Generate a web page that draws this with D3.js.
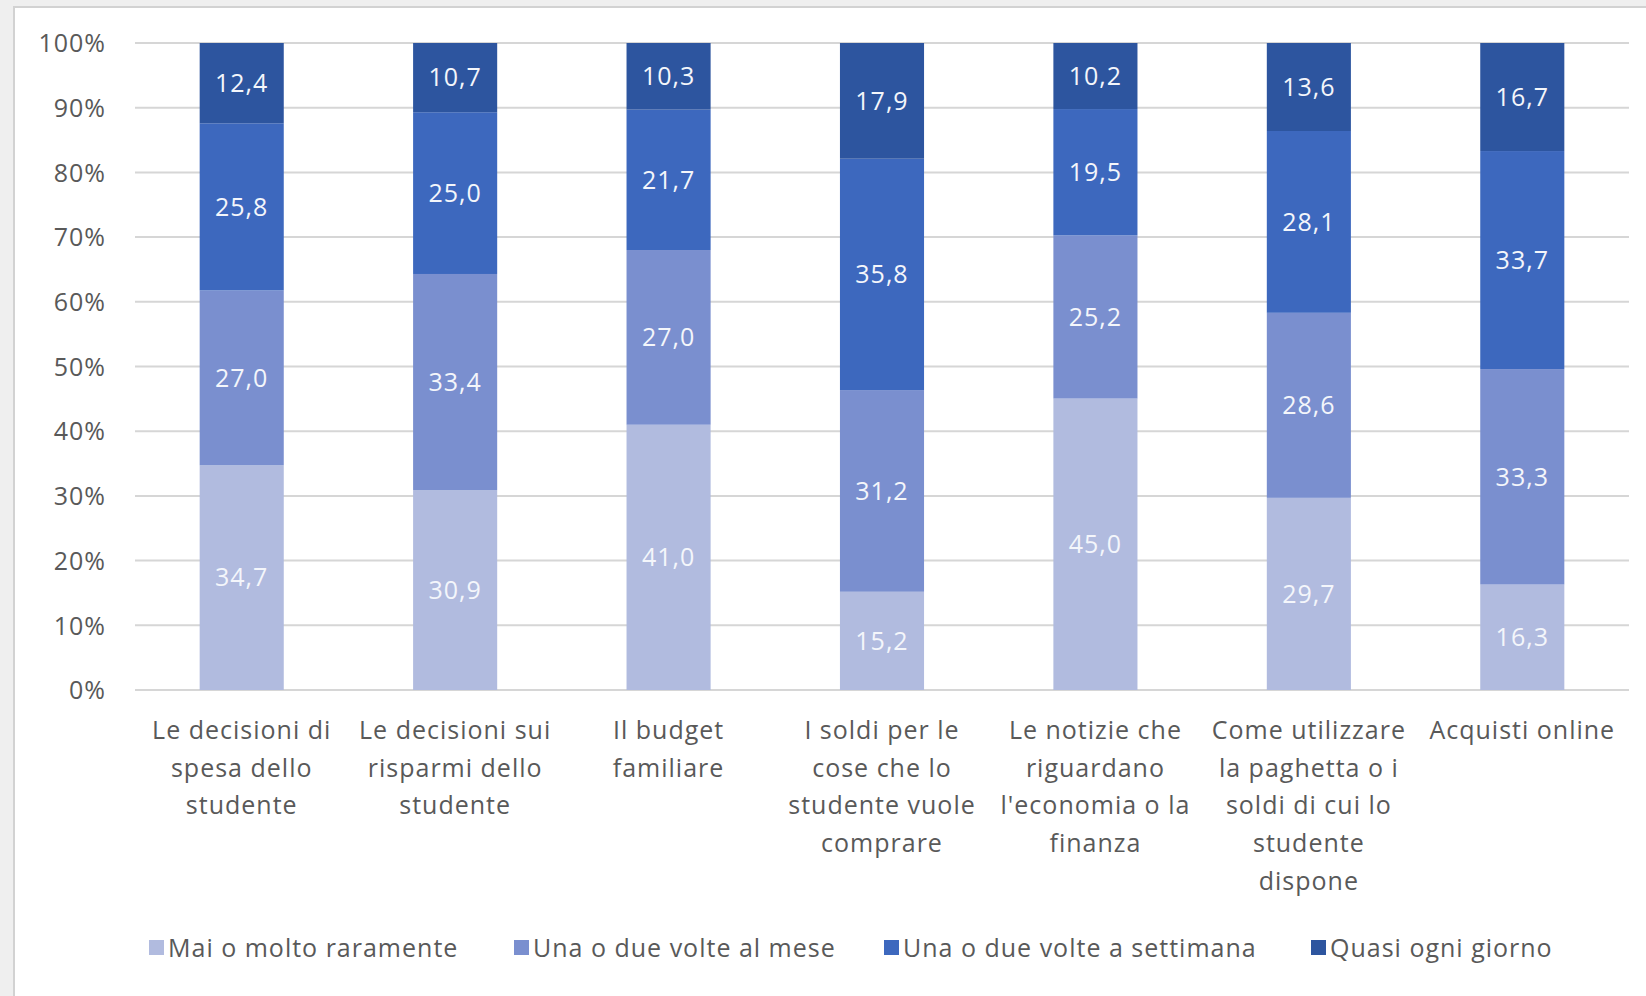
<!DOCTYPE html>
<html>
<head>
<meta charset="utf-8">
<script src="https://cdn.jsdelivr.net/npm/d3@7"></script>
<style>
  html, body { margin: 0; padding: 0; background: #efefef; }
  svg { display: block; }
  text { font-family: "Open Sans", "Noto Sans", sans-serif; letter-spacing: 1px; }
</style>
</head>
<body>
<svg id="chart" width="1646" height="996"></svg>
<script>
// Categories (each line of a wrapped label is a separate entry)
const categories = [
  ["Le decisioni di", "spesa dello", "studente"],
  ["Le decisioni sui", "risparmi dello", "studente"],
  ["Il budget", "familiare"],
  ["I soldi per le", "cose che lo", "studente vuole", "comprare"],
  ["Le notizie che", "riguardano", "l'economia o la", "finanza"],
  ["Come utilizzare", "la paghetta o i", "soldi di cui lo", "studente", "dispone"],
  ["Acquisti online"]
];

const seriesNames = [
  "Mai o molto raramente",
  "Una o due volte al mese",
  "Una o due volte a settimana",
  "Quasi ogni giorno"
];

// Percentages per series, one value per category
const maiRaramente    = [34.7, 30.9, 41.0, 15.2, 45.0, 29.7, 16.3];
const unoDueMese      = [27.0, 33.4, 27.0, 31.2, 25.2, 28.6, 33.3];
const unoDueSettim    = [25.8, 25.0, 21.7, 35.8, 19.5, 28.1, 33.7];
const quasiOgniGiorno = [12.4, 10.7, 10.3, 17.9, 10.2, 13.6, 16.7];

const yTicks = [0, 0.1, 0.2, 0.3, 0.4, 0.5, 0.6, 0.7, 0.8, 0.9, 1.0];

const colors = ["#b1bbdf", "#7a8fcf", "#3d68be", "#2d559f"];

const seriesValues = [maiRaramente, unoDueMese, unoDueSettim, quasiOgniGiorno];
const rows = categories.map((c, i) => {
  const r = { key: i };
  seriesNames.forEach((s, j) => { r[s] = seriesValues[j][i]; });
  return r;
});

const FONT = 25;
const svg = d3.select("#chart");

// chart frame
svg.append("rect")
  .attr("x", 14).attr("y", 7)
  .attr("width", 1646).attr("height", 1000)
  .attr("fill", "#ffffff")
  .attr("stroke", "#d2d2d2").attr("stroke-width", 2);

const plot = { left: 135, right: 1629, top: 43, bottom: 690 };

const x = d3.scaleBand()
  .domain(d3.range(categories.length))
  .range([plot.left, plot.right])
  .paddingInner(0.606)
  .paddingOuter(0.303);

const y = d3.scaleLinear()
  .domain([0, 1])
  .range([plot.bottom, plot.top]);

const stacked = d3.stack()
  .keys(seriesNames)
  .offset(d3.stackOffsetExpand)(rows);

// gridlines
svg.append("g")
  .selectAll("line")
  .data(yTicks)
  .join("line")
  .attr("x1", plot.left).attr("x2", plot.right)
  .attr("y1", d => y(d)).attr("y2", d => y(d))
  .attr("stroke", "#d6d6d6").attr("stroke-width", 2);

// y axis labels
const yAxis = d3.axisLeft(y)
  .tickValues(yTicks)
  .tickFormat(d3.format(".0%"))
  .tickSize(0)
  .tickPadding(0);
const gy = svg.append("g")
  .attr("transform", `translate(106,0)`)
  .call(yAxis);
gy.select(".domain").remove();
gy.selectAll("text")
  .attr("fill", "#595959")
  .attr("font-size", FONT)
  .attr("font-family", "Open Sans, sans-serif")
  .attr("dy", "0.35em");

// bars
const layers = svg.append("g")
  .selectAll("g")
  .data(stacked)
  .join("g")
  .attr("fill", (d, i) => colors[i]);

layers.selectAll("rect")
  .data(d => d)
  .join("rect")
  .attr("x", (d, i) => x(i))
  .attr("width", x.bandwidth())
  .attr("y", d => y(d[1]))
  .attr("height", d => y(d[0]) - y(d[1]));

// value labels, centred in each segment
const fmt = v => d3.format(".1f")(v).replace(".", ",");
layers.selectAll("text")
  .data(d => d.map((p, i) => ({ p, i, key: d.key })))
  .join("text")
  .attr("x", d => x(d.i) + x.bandwidth() / 2)
  .attr("y", d => y((d.p[0] + d.p[1]) / 2))
  .attr("dy", "0.35em")
  .attr("text-anchor", "middle")
  .attr("fill", "#f4f6fb")
  .attr("font-size", FONT)
  .text(d => fmt(d.p.data[d.key]));

// category labels
const xAxis = d3.axisBottom(x).tickSize(0).tickFormat("");
const gx = svg.append("g")
  .attr("transform", `translate(0,${plot.bottom})`)
  .call(xAxis);
gx.select(".domain").remove();
gx.selectAll(".tick").each(function(d) {
  const t = d3.select(this).append("text")
    .attr("fill", "#595959")
    .attr("font-size", FONT)
    .attr("text-anchor", "middle")
    .attr("y", 49);
  categories[d].forEach((line, k) => {
    t.append("tspan").attr("x", 0).attr("dy", k === 0 ? 0 : 37.7).text(line);
  });
});

// legend
const legendX = [149, 514, 884, 1311];
const legend = svg.append("g").selectAll("g")
  .data(seriesNames)
  .join("g")
  .attr("transform", (d, i) => `translate(${legendX[i]},948)`);
legend.append("rect")
  .attr("x", 0).attr("y", -8)
  .attr("width", 15).attr("height", 15)
  .attr("fill", (d, i) => colors[i]);
legend.append("text")
  .attr("x", 19).attr("dy", "0.35em")
  .attr("fill", "#595959")
  .attr("font-size", FONT)
  .text(d => d);
</script>
</body>
</html>
